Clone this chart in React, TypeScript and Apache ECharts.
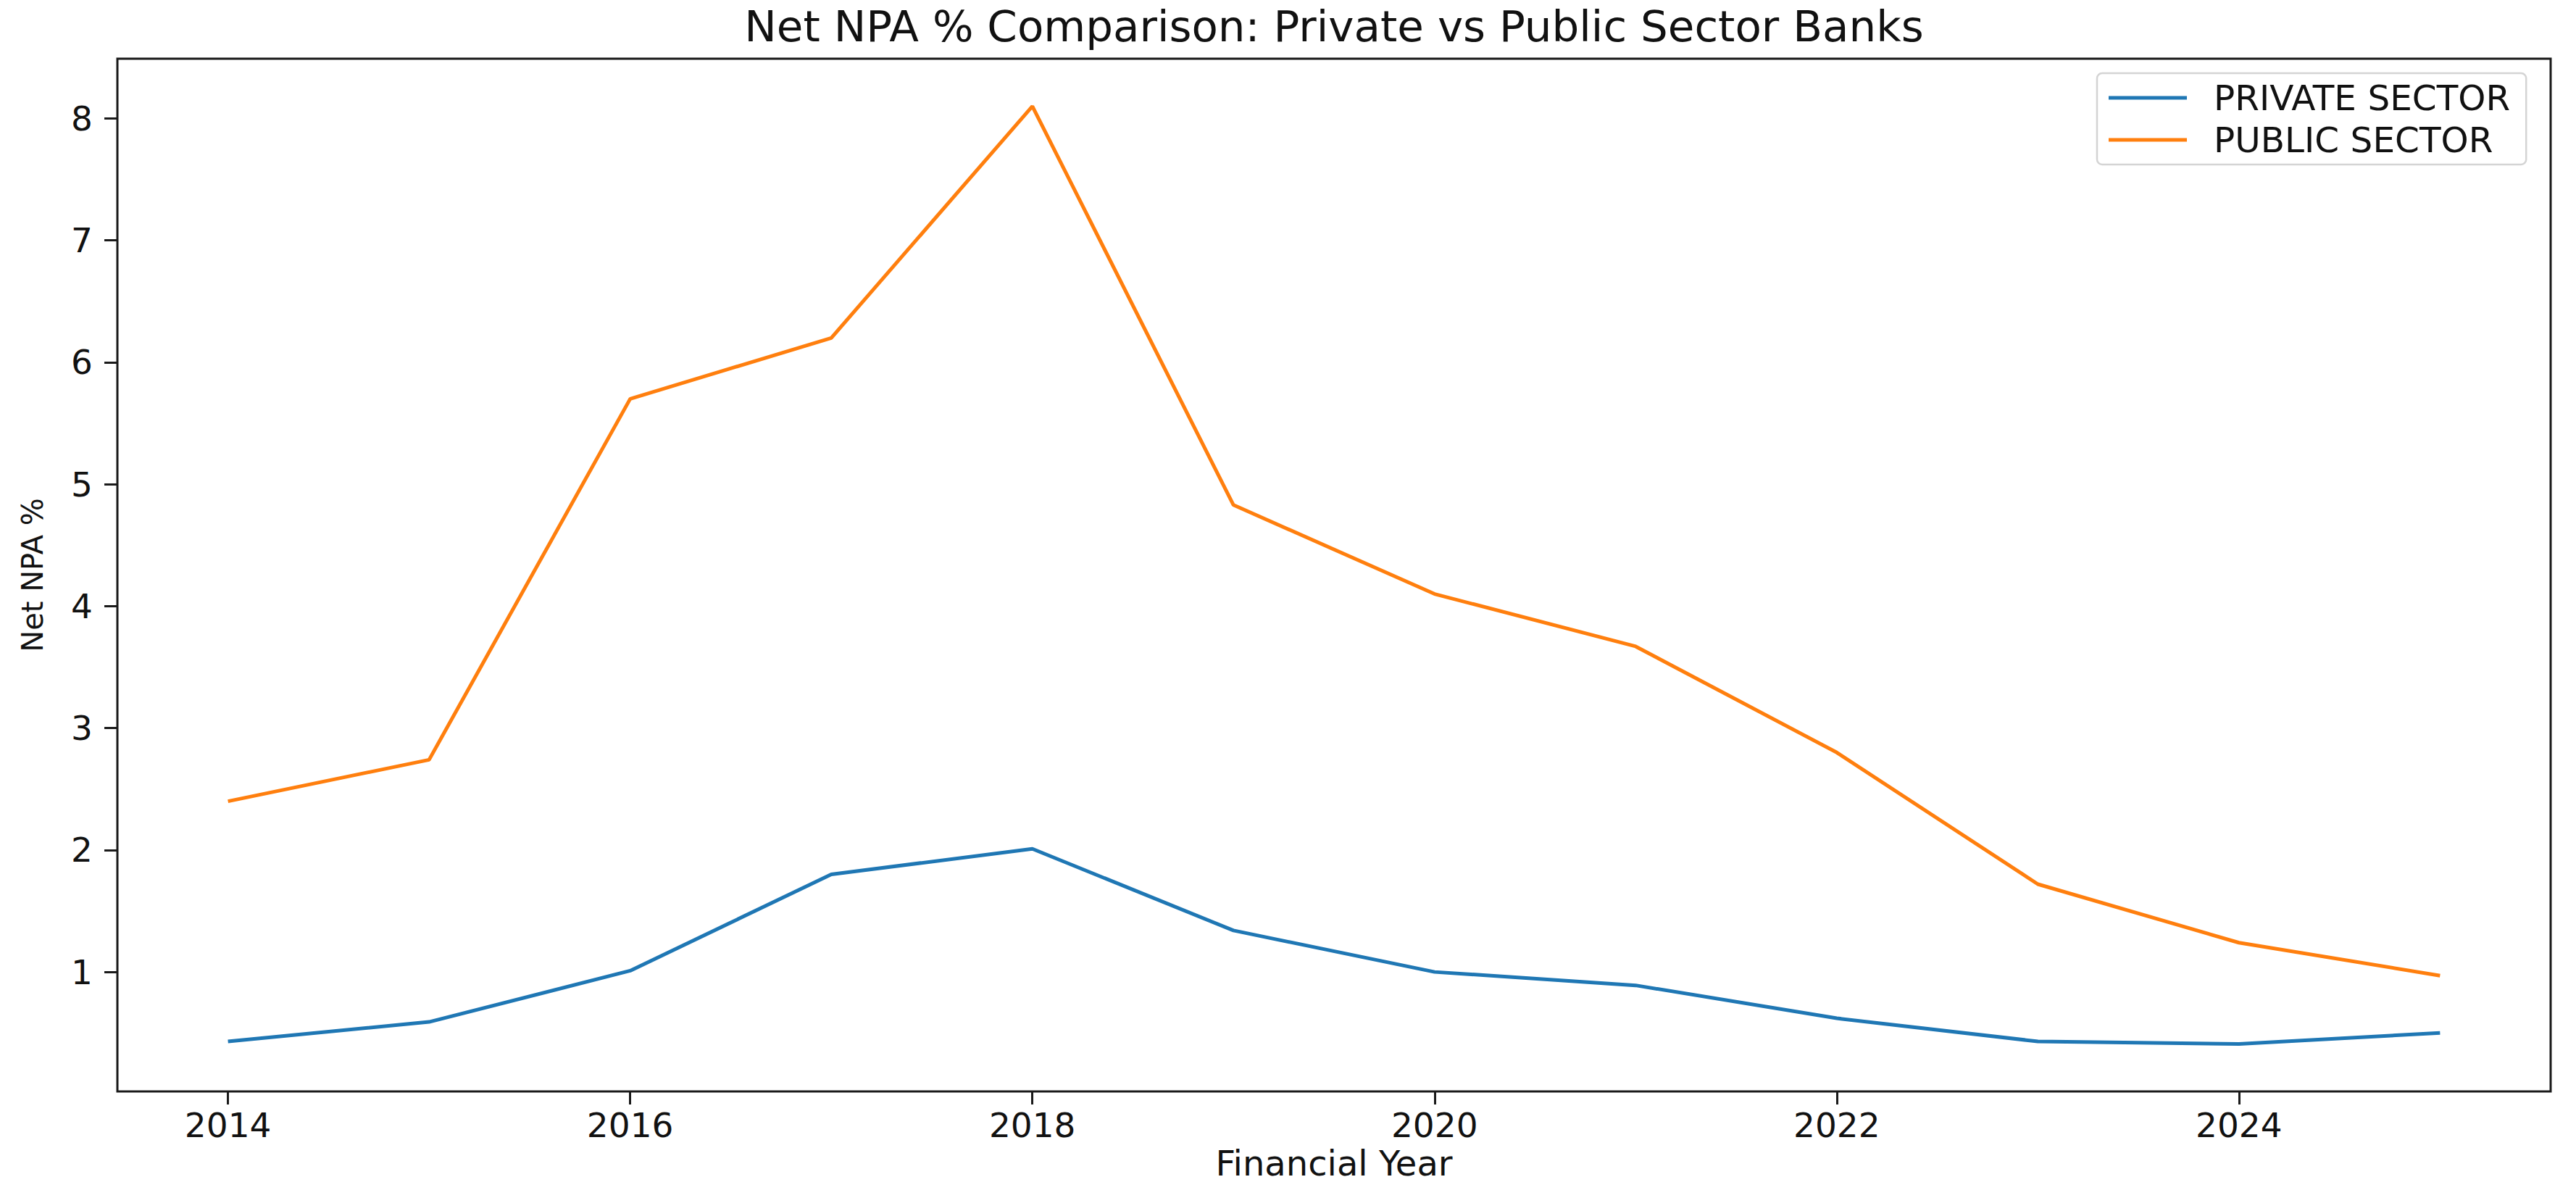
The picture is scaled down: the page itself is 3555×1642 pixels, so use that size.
import React, { useEffect, useRef } from "react";
import * as echarts from "echarts";

const years = [2014, 2015, 2016, 2017, 2018, 2019, 2020, 2021, 2022, 2023, 2024, 2025];
const privateSector = [0.43, 0.59, 1.01, 1.8, 2.01, 1.34, 1.0, 0.89, 0.62, 0.43, 0.41, 0.5];
const publicSector = [2.4, 2.74, 5.7, 6.2, 8.1, 4.83, 4.1, 3.67, 2.8, 1.72, 1.24, 0.97];
const xTickValues = [2014, 2016, 2018, 2020, 2022, 2024];
const yTickValues = [1, 2, 3, 4, 5, 6, 7, 8];
const seriesNames = ["PRIVATE SECTOR", "PUBLIC SECTOR"];
const seriesColors = ["#1f77b4", "#ff7f0e"];

const FONT = "DejaVu Sans";
const TEXT = "#111111";

export default function App() {
  const ref = useRef<HTMLDivElement>(null);

  useEffect(() => {
    if (!ref.current) return;
    const chart = echarts.init(ref.current, null, { renderer: "svg" });
    const toPairs = (vals: number[]) => years.map((y, i) => [y, vals[i]]);
    const option: any = {
      animation: false,
      backgroundColor: "#ffffff",
      textStyle: { fontFamily: FONT },
      title: {
        text: "Net NPA % Comparison: Private vs Public Sector Banks",
        left: 1841,
        top: 6,
        textAlign: "center",
        padding: 0,
        textStyle: { fontFamily: FONT, fontSize: 59.5, fontWeight: "normal", color: TEXT },
      },
      legend: {
        orient: "vertical",
        left: 2894,
        top: 101,
        icon: "rect",
        itemWidth: 108,
        itemHeight: 5,
        itemGap: 6,
        padding: [8, 22, 8, 16],
        backgroundColor: "#ffffff",
        borderColor: "#d4d4d4",
        borderWidth: 2.5,
        borderRadius: 7,
        textStyle: {
          fontFamily: FONT,
          fontSize: 48.5,
          color: TEXT,
          lineHeight: 52,
          padding: [0, 0, 0, 32],
        },
        data: seriesNames,
      },
      grid: {
        left: 162,
        right: 35,
        top: 81,
        bottom: 136,
        show: true,
        borderColor: "#1a1a1a",
        borderWidth: 3,
        containLabel: false,
      },
      xAxis: {
        type: "value",
        min: 2013.45,
        max: 2025.55,
        name: "Financial Year",
        nameLocation: "middle",
        nameGap: 70,
        nameTextStyle: { fontFamily: FONT, fontSize: 48, color: TEXT },
        splitLine: { show: false },
        axisLine: { show: false },
        axisTick: {
          show: true,
          length: 18,
          customValues: xTickValues,
          lineStyle: { color: "#1a1a1a", width: 3 },
        },
        axisLabel: {
          customValues: xTickValues,
          margin: 23,
          fontFamily: FONT,
          fontSize: 47,
          color: TEXT,
          formatter: (v: number) => String(v),
        },
      },
      yAxis: {
        type: "value",
        min: 0.02,
        max: 8.49,
        name: "Net NPA %",
        nameLocation: "middle",
        nameGap: 97,
        nameTextStyle: { fontFamily: FONT, fontSize: 40, color: TEXT },
        splitLine: { show: false },
        axisLine: { show: false },
        axisTick: {
          show: true,
          length: 18,
          customValues: yTickValues,
          lineStyle: { color: "#1a1a1a", width: 3 },
        },
        axisLabel: {
          customValues: yTickValues,
          margin: 34,
          fontFamily: FONT,
          fontSize: 47,
          color: TEXT,
          formatter: (v: number) => String(v),
        },
      },
      series: [
        {
          name: seriesNames[0],
          type: "line",
          data: toPairs(privateSector),
          showSymbol: false,
          symbol: "none",
          color: seriesColors[0],
          lineStyle: { color: seriesColors[0], width: 5 },
          itemStyle: { color: seriesColors[0] },
          z: 3,
        },
        {
          name: seriesNames[1],
          type: "line",
          data: toPairs(publicSector),
          showSymbol: false,
          symbol: "none",
          color: seriesColors[1],
          lineStyle: { color: seriesColors[1], width: 5 },
          itemStyle: { color: seriesColors[1] },
          z: 3,
        },
      ],
    };
    chart.setOption(option);
    return () => chart.dispose();
  }, []);

  return (
    <div
      ref={ref}
      style={{ position: "absolute", left: 0, top: 0, width: 3555, height: 1642, background: "#fff" }}
    />
  );
}
